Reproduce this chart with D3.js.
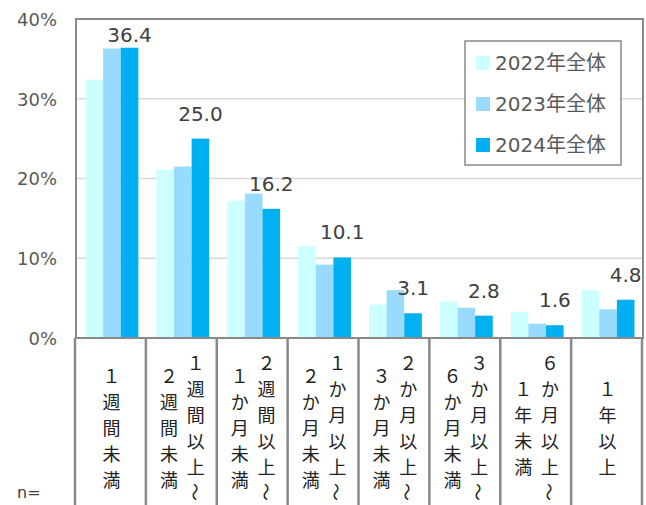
<!DOCTYPE html>
<html>
<head>
<meta charset="utf-8">
<script src="https://cdn.jsdelivr.net/npm/d3@7"></script>
<style>
  html, body { margin: 0; padding: 0; background: #fff; }
  svg { display: block; }
</style>
</head>
<body>
<svg id="chart" width="646" height="505"></svg>
<script>
// ---- data ----
const categories = ["c1", "c2", "c3", "c4", "c5", "c6", "c7", "c8"];
const categoryLabels = [
  ["１週間未満"],
  ["１週間以上\uFF5E", "２週間未満"],
  ["２週間以上\uFF5E", "１か月未満"],
  ["１か月以上\uFF5E", "２か月未満"],
  ["２か月以上\uFF5E", "３か月未満"],
  ["３か月以上\uFF5E", "６か月未満"],
  ["６か月以上\uFF5E", "１年未満"],
  ["１年以上"]
];
const seriesNames = ["2022年全体", "2023年全体", "2024年全体"];
const values2022 = [32.4, 21.1, 17.2, 11.5, 4.2, 4.6, 3.3, 6.0];
const values2023 = [36.3, 21.5, 18.1, 9.2, 6.0, 3.8, 1.8, 3.6];
const values2024 = [36.4, 25.0, 16.2, 10.1, 3.1, 2.8, 1.6, 4.8];
const yTicks = [0, 10, 20, 30, 40];
const colors = ["#CCFFFF", "#99DBFF", "#00B0F0"];

const series = [values2022, values2023, values2024];

// ---- layout ----
const svg = d3.select("#chart");
const plot = { left: 76, right: 643, top: 19, bottom: 338 };
const gray = "#898989";
const latin = "'DejaVu Sans', 'Noto Sans CJK JP', sans-serif";
const cjk = "'Noto Sans CJK JP', sans-serif";

const x0 = d3.scaleBand().domain(categories).range([plot.left, plot.right]).padding(0);
const x1 = d3.scaleBand().domain(d3.range(series.length))
  .range([9.5, x0.bandwidth() - 8.5]).padding(0);
const y = d3.scaleLinear().domain([0, 40]).range([plot.bottom, plot.top]);

// gridlines
svg.append("g").selectAll("line").data(yTicks.filter(d => d > 0 && d < 40)).join("line")
  .attr("x1", plot.left).attr("x2", plot.right)
  .attr("y1", d => y(d)).attr("y2", d => y(d))
  .attr("stroke", "#d9d9d9").attr("stroke-width", 1.5);

// bars
const gCat = svg.append("g").selectAll("g").data(categories).join("g")
  .attr("transform", d => `translate(${x0(d)},0)`);
gCat.selectAll("rect").data((d, i) => series.map((s, k) => ({ k, v: s[i] }))).join("rect")
  .attr("x", d => x1(d.k)).attr("width", x1.bandwidth())
  .attr("y", d => y(d.v)).attr("height", d => y(0) - y(d.v))
  .attr("fill", d => colors[d.k]);

// plot border
svg.append("rect")
  .attr("x", plot.left).attr("y", plot.top)
  .attr("width", plot.right - plot.left).attr("height", plot.bottom - plot.top)
  .attr("fill", "none").attr("stroke", gray).attr("stroke-width", 2);

// y axis labels
const yAxis = d3.axisLeft(y).tickValues(yTicks).tickSize(0).tickPadding(19)
  .tickFormat(d => d + "%");
const gy = svg.append("g").attr("transform", `translate(${plot.left},0)`).call(yAxis);
gy.select(".domain").remove();
gy.selectAll("text").attr("font-family", latin).attr("font-size", 18)
  .attr("fill", "#595959").attr("dy", "0.36em");

// category dividers below axis
const bounds = categories.map(c => x0(c)).concat([plot.right]);
svg.append("g").selectAll("line").data(bounds).join("line")
  .attr("x1", d => d - 1).attr("x2", d => d - 1)
  .attr("y1", plot.bottom).attr("y2", 505)
  .attr("stroke", gray).attr("stroke-width", 2.5);

// vertical category labels
const pitch = 26, midY = 427, colGap = 13.4;
categories.forEach((c, i) => {
  const cols = categoryLabels[i];
  const cx = x0(c) + x0.bandwidth() / 2;
  cols.forEach((str, j) => {
    const chars = Array.from(str);
    const colX = cols.length === 1 ? cx : cx + (j === 0 ? colGap : -colGap);
    chars.forEach((ch, n) => {
      const cy = midY + (n - (chars.length - 1) / 2) * pitch;
      const rot = ch === "\uFF5E" ? 90 : 0;
      svg.append("g").attr("transform", `translate(${colX},${cy}) rotate(${rot})`)
        .append("text")
        .attr("x", 0).attr("y", 0)
        .attr("text-anchor", "middle").attr("dominant-baseline", "central")
        .attr("font-family", cjk).attr("font-size", 18).attr("fill", "#222")
        .text(ch);
    });
  });
});

// data labels (2024 only)
svg.append("g").selectAll("text").data(values2024).join("text")
  .attr("x", (d, i) => x0(categories[i]) + x1(2) + x1.bandwidth() / 2)
  .attr("y", d => Math.max(y(d) - 18, plot.top + 23))
  .attr("text-anchor", "middle")
  .attr("font-family", latin).attr("font-size", 20).attr("fill", "#404040")
  .text(d => d.toFixed(1));

// legend
const lg = svg.append("g");
lg.append("rect").attr("x", 465).attr("y", 41).attr("width", 156).attr("height", 124)
  .attr("fill", "#fff").attr("stroke", gray).attr("stroke-width", 1.5);
seriesNames.forEach((name, k) => {
  const cy = 63 + k * 41;
  lg.append("rect").attr("x", 476).attr("y", cy - 7).attr("width", 14).attr("height", 14)
    .attr("fill", colors[k]);
  lg.append("text").attr("x", 495).attr("y", cy).attr("dy", "0.36em")
    .attr("font-family", latin).attr("font-size", 20).attr("fill", "#595959")
    .text(name);
});

// n=
svg.append("text").attr("x", 17).attr("y", 498)
  .attr("font-family", latin).attr("font-size", 16).attr("fill", "#404040").text("n=");
</script>
</body>
</html>
